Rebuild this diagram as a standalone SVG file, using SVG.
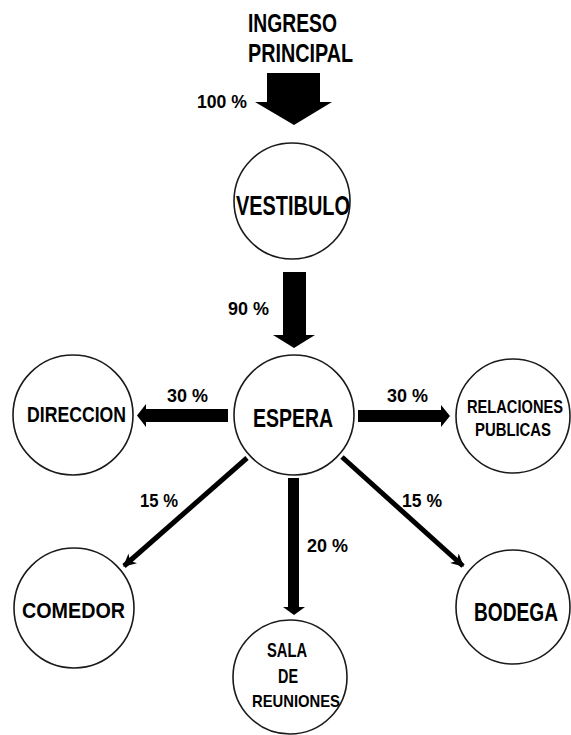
<svg xmlns="http://www.w3.org/2000/svg" width="571" height="735" viewBox="0 0 571 735">
<style>
.node circle{fill:#fff;stroke:#1a1a1a;stroke-width:1.6}
text{font-family:"Liberation Sans",Arial,sans-serif;font-weight:bold;fill:#000}
.arr{fill:#000}
.thin{stroke:#000;stroke-width:5;fill:none;marker-end:url(#ah)}
</style>
<defs>
<marker id="ah" viewBox="0 0 10 10" refX="9" refY="5" markerWidth="2.6" markerHeight="2.6" orient="auto" markerUnits="strokeWidth">
<path d="M0,0 L10,5 L0,10 L3,5 Z" fill="#000"/>
</marker>
</defs>
<rect width="571" height="735" fill="#fff"/>
<g id="ingreso">
<text x="248" y="32" font-size="26" textLength="89" lengthAdjust="spacingAndGlyphs">INGRESO</text>
<text x="248" y="62" font-size="26" textLength="105" lengthAdjust="spacingAndGlyphs">PRINCIPAL</text>
</g>
<g id="connectors">
<polygon class="arr" points="267,73 320,73 320,102 332,102 294,125 255,102 267,102"/>
<text x="197" y="108" font-size="18" textLength="50" lengthAdjust="spacingAndGlyphs">100 %</text>
<polygon class="arr" points="283,272 306,272 306,335 315,335 294,348 273,335 283,335"/>
<text x="228" y="315" font-size="18" textLength="41" lengthAdjust="spacingAndGlyphs">90 %</text>
<polygon class="arr" points="228,409 146,409 146,404 137,415.5 146,427 146,422 228,422"/>
<text x="167" y="402" font-size="19" textLength="41" lengthAdjust="spacingAndGlyphs">30 %</text>
<polygon class="arr" points="358,410 441,410 441,405 450,416 441,427 441,422 358,422"/>
<text x="387" y="402" font-size="19" textLength="41" lengthAdjust="spacingAndGlyphs">30 %</text>
<polygon class="arr" points="288,478 299,478 299,607 305,607 294,615 283,607 288,607"/>
<text x="307" y="552" font-size="19" textLength="41" lengthAdjust="spacingAndGlyphs">20 %</text>
<line class="thin" x1="247" y1="458" x2="124" y2="566"/>
<text x="140" y="507" font-size="18" textLength="38" lengthAdjust="spacingAndGlyphs">15 %</text>
<line class="thin" x1="342" y1="457" x2="463" y2="566"/>
<text x="402" y="507" font-size="18" textLength="40" lengthAdjust="spacingAndGlyphs">15 %</text>
</g>
<g id="vestibulo" class="node">
<circle cx="292" cy="201" r="58"/>
<text x="236" y="215" font-size="28" textLength="114" lengthAdjust="spacingAndGlyphs">VESTIBULO</text>
</g>
<g id="espera" class="node">
<circle cx="294" cy="415" r="60"/>
<text x="253" y="427" font-size="26" textLength="80" lengthAdjust="spacingAndGlyphs">ESPERA</text>
</g>
<g id="direccion" class="node">
<circle cx="73" cy="415" r="60"/>
<text x="27" y="422" font-size="22" textLength="99" lengthAdjust="spacingAndGlyphs">DIRECCION</text>
</g>
<g id="relaciones" class="node">
<circle cx="513" cy="416" r="57"/>
<text x="467" y="413" font-size="18" textLength="96" lengthAdjust="spacingAndGlyphs">RELACIONES</text>
<text x="475" y="436" font-size="18" textLength="76" lengthAdjust="spacingAndGlyphs">PUBLICAS</text>
</g>
<g id="comedor" class="node">
<circle cx="74" cy="608" r="60"/>
<text x="22" y="618" font-size="22" textLength="103" lengthAdjust="spacingAndGlyphs">COMEDOR</text>
</g>
<g id="bodega" class="node">
<circle cx="513" cy="607" r="57"/>
<text x="474" y="621" font-size="25" textLength="84" lengthAdjust="spacingAndGlyphs">BODEGA</text>
</g>
<g id="sala" class="node">
<circle cx="290" cy="677" r="57"/>
<text x="267" y="657" font-size="21" textLength="40" lengthAdjust="spacingAndGlyphs">SALA</text>
<text x="278" y="683" font-size="21" textLength="20" lengthAdjust="spacingAndGlyphs">DE</text>
<text x="252" y="707" font-size="17" textLength="88" lengthAdjust="spacingAndGlyphs">REUNIONES</text>
</g>
</svg>
